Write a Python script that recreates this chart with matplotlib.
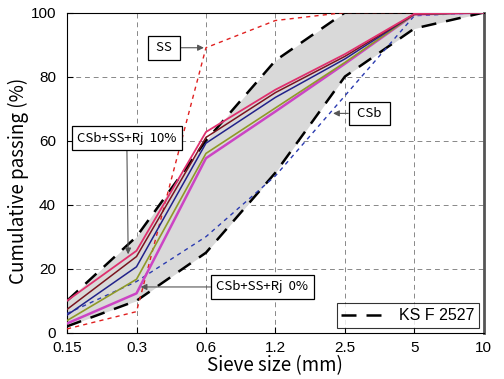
import matplotlib
matplotlib.use('Agg')
import matplotlib.pyplot as plt

# sieve sizes (categorical, evenly spaced)
sieves = ['0.15', '0.3', '0.6', '1.2', '2.5', '5', '10']

# KS F 2527 limits
ks_upper = [10, 30, 60, 85, 100, 100, 100]
ks_lower = [2, 10, 25, 50, 80, 95, 100]

# single materials
ss = [1.2, 6.6, 89, 97.5, 100, 100, 100]
csb = [6, 16, 30, 49, 74, 99, 100]

# blends CSb+SS+Rj (bottom = 0%, top = 10%)
blend_0 = [2.9, 12.3, 54.5, 69.1, 84.0, 99.4, 100]
blend_1 = [3.8, 16.7, 56.0, 70.2, 84.4, 99.4, 100]
blend_2 = [5.5, 20.6, 59.2, 73.5, 85.5, 99.5, 100]
blend_3 = [7.3, 23.8, 61.0, 75.0, 86.3, 99.5, 100]
blend_4 = [10.0, 25.6, 62.7, 75.9, 87.0, 99.6, 100]

x = list(range(len(sieves)))

plt.rcParams['font.family'] = ['Noto Sans CJK KR', 'DejaVu Sans']

fig = plt.figure(figsize=(5.04, 3.79), dpi=100)
ax = fig.add_axes([0.133, 0.122, 0.827, 0.845])

ax.fill_between(x, ks_lower, ks_upper, color='#d9d9d9', zorder=1, lw=0)
ax.plot(x, ks_upper, color='black', ls=(0, (6, 4)), lw=1.8, zorder=3, label='KS F 2527')
ax.plot(x, ks_lower, color='black', ls=(0, (6, 4)), lw=1.8, zorder=3)

ax.plot(x, ss, color='#e02020', ls=(0, (3, 3)), lw=1.0, zorder=4)
ax.plot(x, csb, color='#2b3bb0', ls=(0, (3, 3)), lw=1.0, zorder=4)

ax.plot(x, blend_0, color='#cc44c4', lw=1.8, zorder=5)
ax.plot(x, blend_1, color='#8f9a28', lw=1.2, zorder=5)
ax.plot(x, blend_2, color='#22228a', lw=1.1, zorder=5)
ax.plot(x, blend_3, color='#7a1420', lw=1.1, zorder=5)
ax.plot(x, blend_4, color='#e0306e', lw=1.3, zorder=5)

ax.set_xlim(0, len(sieves) - 1)
ax.set_ylim(0, 100)
ax.set_xticks(x)
ax.set_xticklabels(sieves)
ax.set_yticks([0, 20, 40, 60, 80, 100])
ax.tick_params(direction='in', labelsize=11, length=4)
ax.tick_params(axis='x', pad=6)
ax.tick_params(axis='y', pad=8)
for lab in ax.get_xticklabels() + ax.get_yticklabels():
    lab.set_family(['Liberation Sans', 'DejaVu Sans'])
ax.grid(True, color='#888888', ls=(0, (5, 4)), lw=0.7)
ax.set_axisbelow(True)

ax.set_xlabel('Sieve size (mm)', fontsize=13.5, labelpad=0)
ax.set_ylabel('Cumulative passing (%)', fontsize=13.5)
ax.yaxis.set_label_coords(-0.092, 0.475)

ax.spines['right'].set_linewidth(2)
ax.spines['right'].set_color('#555555')

box = dict(boxstyle='square,pad=0.4', fc='white', ec='black', lw=0.9)
arrow = dict(arrowstyle='-|>', color='#555555', lw=0.8, mutation_scale=9)
arrow['shrinkA'] = 0
arrow['shrinkB'] = 0

ax.annotate(' SS ', xy=(1.97, 89), xytext=(1.4, 89), fontsize=9.5, ha='center', va='center',
            bbox=box, arrowprops=arrow, zorder=6)
ax.annotate(' CSb ', xy=(3.83, 68.5), xytext=(4.35, 68.5), fontsize=9.5, ha='center', va='center',
            bbox=box, arrowprops=arrow, zorder=6)
ax.annotate('CSb+SS+Rj  10%', xy=(0.88, 24.5), xytext=(0.86, 60.8), fontsize=9.5, ha='center',
            va='center', bbox=box, arrowprops=arrow, zorder=6)
ax.annotate('CSb+SS+Rj  0%', xy=(1.06, 14.3), xytext=(2.81, 14.3), fontsize=9.5, ha='center',
            va='center', bbox=box, arrowprops=arrow, zorder=6)

leg = ax.legend(loc='lower right', fontsize=11.5, frameon=True, fancybox=False,
                handlelength=2.8, borderaxespad=0.3, borderpad=0.3)
leg.get_frame().set_edgecolor('black')
leg.get_frame().set_linewidth(0.8)
for t in leg.get_texts():
    t.set_family(['Liberation Sans', 'DejaVu Sans'])

fig.savefig('out.png', dpi=100)
